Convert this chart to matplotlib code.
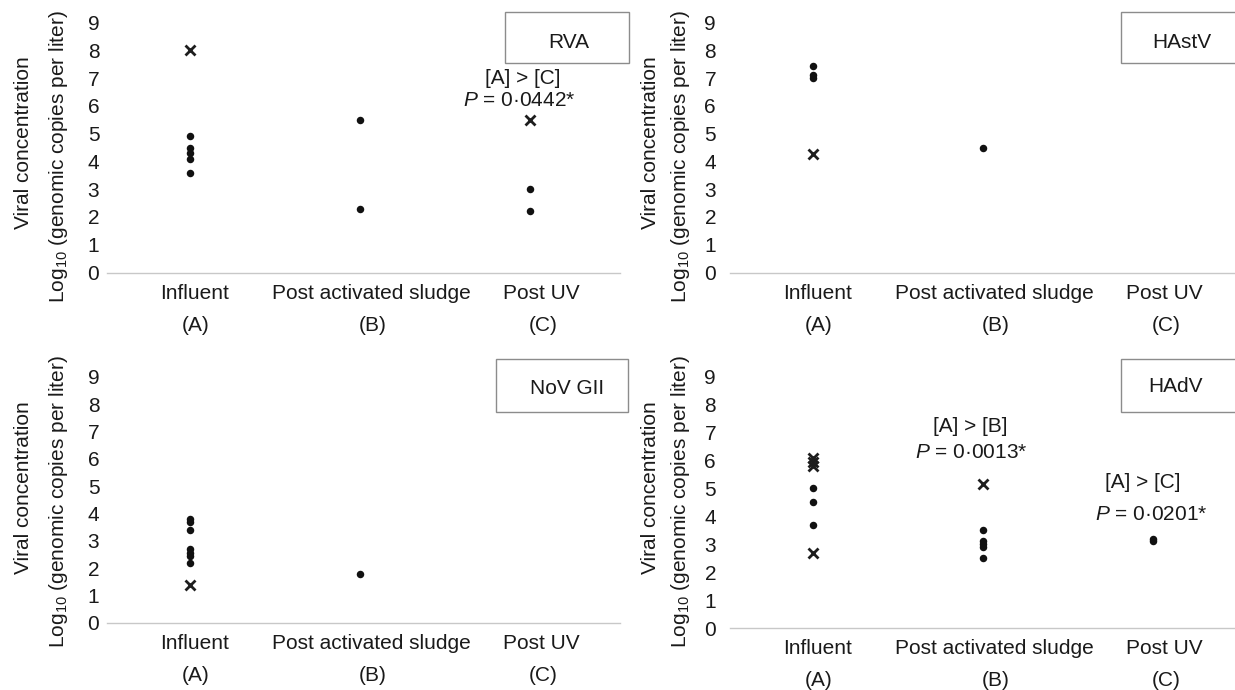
import matplotlib
matplotlib.use("Agg")
import matplotlib.pyplot as plt
from matplotlib.patches import Rectangle

plt.rcParams["font.family"] = ["Liberation Sans", "DejaVu Sans"]
plt.rcParams["mathtext.fontset"] = "custom"
plt.rcParams["mathtext.rm"] = "Liberation Sans"
plt.rcParams["mathtext.it"] = "Liberation Sans:italic"

# =========================================================
# DATA  (log10 genomic copies per liter)
# =========================================================

categories = ["Influent", "Post activated sludge", "Post UV"]
letters = ["(A)", "(B)", "(C)"]
y_ticks = [0, 1, 2, 3, 4, 5, 6, 7, 8, 9]

virus_names = ["RVA", "HAstV", "NoV GII", "HAdV"]

# dots = detected values, crosses = second marker type; one list per category
rva_dots = [[4.9, 4.5, 4.3, 4.1, 3.6], [5.5, 2.3], [3.0, 2.2]]
rva_crosses = [[8.0], [], [5.5]]

hastv_dots = [[7.45, 7.1, 7.0], [4.5], []]
hastv_crosses = [[4.25], [], []]

nov_dots = [[3.8, 3.7, 3.4, 2.7, 2.55, 2.45, 2.2], [1.8], []]
nov_crosses = [[1.4], [], []]

hadv_dots = [[5.0, 4.5, 3.7], [3.5, 3.1, 3.0, 2.9, 2.5], [3.2, 3.1]]
hadv_crosses = [[6.1, 5.95, 5.8, 2.7], [5.15], []]

rva_stats = [("[A] > [C]", "0·0442*")]
hastv_stats = []
nov_stats = []
hadv_stats = [("[A] > [B]", "0·0013*"), ("[A] > [C]", "0·0201*")]

# =========================================================
# LAYOUT (pixels on a 1235 x 690 canvas)
# =========================================================

W, H = 1235, 690
fig = plt.figure(figsize=(W / 100, H / 100), dpi=100)


def fx(x):
    return x / W


def fy(y):
    return 1 - y / H


CAT_W = 170.0   # pixel distance between categories
X_MIN = -0.488

panels = [
    dict(left=107, right=620, y0=272.5, y9=22.5, pad=5.5,
         lab_x=(24, 59), lab_y=(143, 157),
         box=(505, 12, 629, 63), box_txt=(569, 42),
         stat_pos=[((1.96, 7.0), (1.94, 6.2))]),
    dict(left=730, right=1235, y0=272.5, y9=22.5, pad=10,
         lab_x=(651, 680), lab_y=(143, 157),
         box=(1121, 12, 1245, 63), box_txt=(1182, 42),
         stat_pos=[]),
    dict(left=107, right=620, y0=623, y9=376.7, pad=5.5,
         lab_x=(24, 59), lab_y=(488, 502),
         box=(496, 359, 628, 412), box_txt=(567, 388),
         stat_pos=[]),
    dict(left=730, right=1235, y0=628, y9=376.7, pad=10,
         lab_x=(651, 680), lab_y=(488, 502),
         box=(1121, 359, 1245, 412), box_txt=(1176, 387),
         stat_pos=[((0.925, 7.2), (0.93, 6.27)),
                   ((1.94, 5.2), (1.99, 4.05))]),
]

all_dots = [rva_dots, hastv_dots, nov_dots, hadv_dots]
all_crosses = [rva_crosses, hastv_crosses, nov_crosses, hadv_crosses]
all_stats = [rva_stats, hastv_stats, nov_stats, hadv_stats]

FS = 15
TXT = "#1a1a1a"

for p, name, dots, crosses, stats in zip(panels, virus_names, all_dots,
                                         all_crosses, all_stats):

    ax = fig.add_axes([fx(p["left"]), fy(p["y0"]),
                       (p["right"] - p["left"]) / W,
                       (p["y0"] - p["y9"]) / H])
    ax.set_xlim(X_MIN, X_MIN + (p["right"] - p["left"]) / CAT_W)
    ax.set_ylim(0, 9)

    for i in range(len(categories)):
        if dots[i]:
            ax.plot([i] * len(dots[i]), dots[i], "o", color="#111111",
                    ms=5.4, mec="none", clip_on=False, zorder=3)
        if crosses[i]:
            ax.plot([i] * len(crosses[i]), crosses[i], "x", color="#1e1e1e",
                    ms=6.5, mew=2.0, clip_on=False, zorder=3)

    # axes styling: only a light grey baseline
    for side in ["left", "right", "top"]:
        ax.spines[side].set_visible(False)
    ax.spines["bottom"].set_color("#c8c8c8")
    ax.spines["bottom"].set_linewidth(1.0)
    ax.set_yticks(y_ticks)
    ax.set_yticklabels([str(t) for t in y_ticks], fontsize=FS, color=TXT)
    ax.tick_params(axis="y", length=0, pad=p["pad"])
    ax.set_xticks([])
    ax.patch.set_visible(False)

    # category labels
    label_dx = [3, 8, 8.5]
    for i, (cat, let) in enumerate(zip(categories, letters)):
        ax.annotate(cat, xy=(i, 0), xycoords=("data", "axes fraction"),
                    xytext=(label_dx[i], -15), textcoords="offset points",
                    ha="center", va="center", fontsize=FS, color=TXT,
                    annotation_clip=False)
        ax.annotate(let, xy=(i, 0), xycoords=("data", "axes fraction"),
                    xytext=(label_dx[i] + 1, -38), textcoords="offset points",
                    ha="center", va="center", fontsize=FS, color=TXT,
                    annotation_clip=False)

    # significance annotations
    for (cmp_txt, pval), (pos1, pos2) in zip(stats, p["stat_pos"]):
        ax.text(pos1[0], pos1[1], cmp_txt, ha="center", va="center",
                fontsize=FS, color=TXT, clip_on=False)
        ax.text(pos2[0], pos2[1], r"$P$ = " + pval, ha="center",
                va="center", fontsize=FS, color=TXT, clip_on=False)

    # y axis title (two lines)
    fig.text(fx(p["lab_x"][0]), fy(p["lab_y"][0]), "Viral concentration",
             rotation=90, ha="center", va="center", fontsize=FS, color=TXT)
    fig.text(fx(p["lab_x"][1]), fy(p["lab_y"][1]),
             r"Log$_{10}$ (genomic copies per liter)",
             rotation=90, ha="center", va="center", fontsize=FS, color=TXT)

    # legend-like name box
    bx0, by0, bx1, by1 = p["box"]
    fig.add_artist(Rectangle((fx(bx0), fy(by1)), (bx1 - bx0) / W,
                             (by1 - by0) / H, transform=fig.transFigure,
                             facecolor="white", edgecolor="#8c8c8c",
                             linewidth=1.0))
    fig.text(fx(p["box_txt"][0]), fy(p["box_txt"][1]), name,
             ha="center", va="center", fontsize=FS, color=TXT)

fig.savefig("out.png", dpi=100, facecolor="white")
